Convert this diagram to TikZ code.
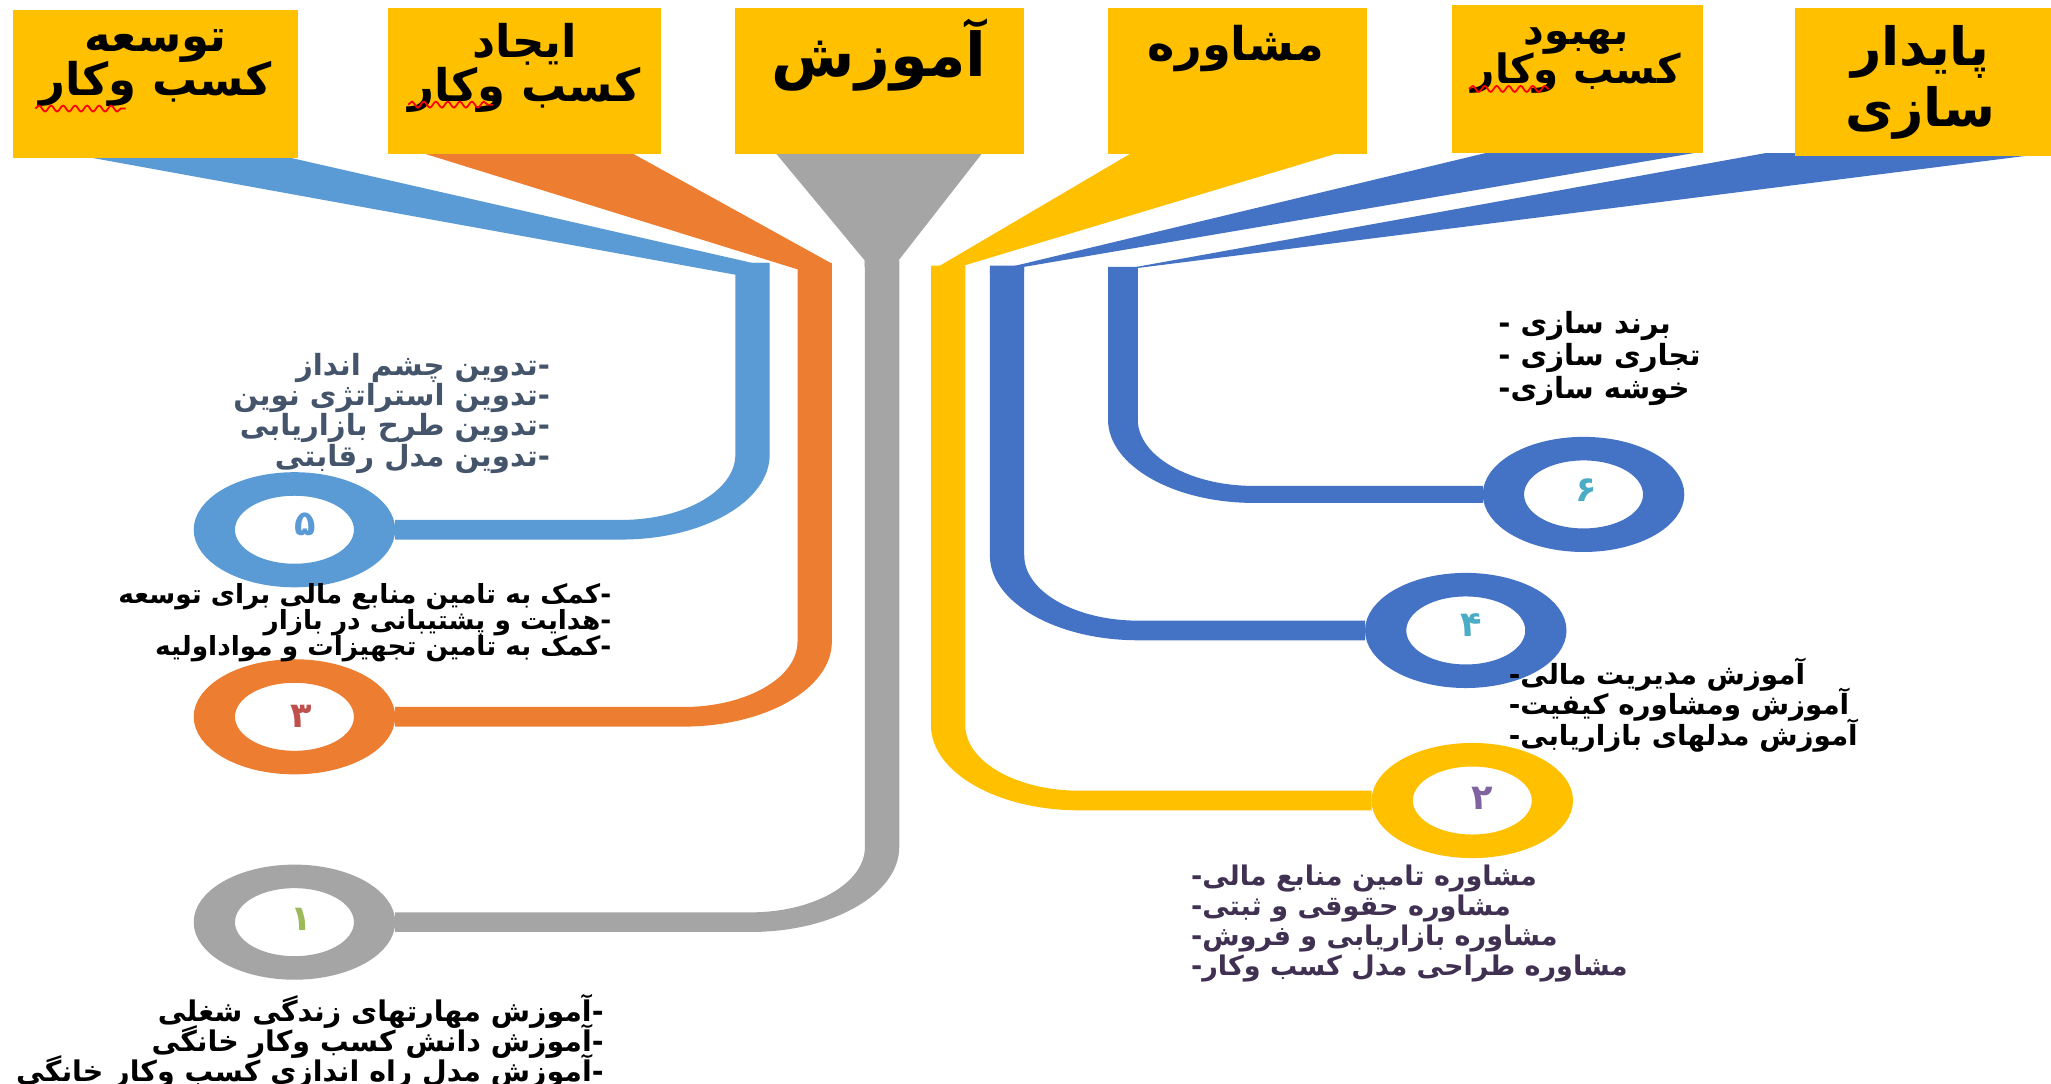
\documentclass[tikz,border=0pt]{standalone}
\usepackage{fontspec}
\usepackage{tikz}
\usetikzlibrary{decorations.pathmorphing}
\newfontfamily\farsi[Script=Arabic]{DejaVu Sans}
\TeXXeTstate=1
\newcommand{\rtlline}[1]{\beginR #1\endR}
\newcommand{\dsh}{\mbox{-}}
\newcommand{\upx}{0.01308cm}
\newcommand{\fa}[2]{\farsi\bfseries\fontsize{#1}{#2}\selectfont\lineskiplimit=-50pt}
\definecolor{gold}{HTML}{FFC000}
\definecolor{lblue}{HTML}{5B9BD5}
\definecolor{orng}{HTML}{ED7D31}
\definecolor{grey}{HTML}{A5A5A5}
\definecolor{dblue}{HTML}{4472C4}
\definecolor{slate}{HTML}{44546A}
\definecolor{plum}{HTML}{403152}
\definecolor{nred}{HTML}{C0504D}
\definecolor{ngreen}{HTML}{9BBB59}
\definecolor{npurple}{HTML}{8064A2}
\definecolor{nteal}{HTML}{4BACC6}
\tikzset{
  head/.style={fill=gold, inner sep=0pt},
  headtxt/.style={align=center, inner sep=0pt},
  bar/.style={line width=15*\upx, rounded corners=0.75cm},
  ring/.style={circle, fill=white, line width=18*\upx, minimum size=70*\upx, inner sep=0pt},
  num/.style={font=\fa{10}{10}, inner sep=0pt},
  item/.style={inner sep=0pt},
  spell/.style={draw=red, line width=0.5pt, decorate, decoration={snake, amplitude=0.3mm, segment length=1.2mm}},
}

\begin{document}
\begin{tikzpicture}[x=0.01308cm, y=-0.01308cm]
\fill[white] (0,0) rectangle (1568,828);
\useasboundingbox (0,0) rectangle (1568,828);

% funnels under the heads
\fill[lblue] (50,117) -- (206,117) -- (575,201) -- (588,201) -- (588,210) -- (562,210) -- cycle;
\fill[orng] (323,117) -- (483,117) -- (635,201) -- (635,206) -- (610,206) -- cycle;
\fill[grey] (593,117) -- (751,117) -- (687,199) -- (687,204) -- (661,204) -- (661,199) -- cycle;
\fill[gold] (865,117) -- (1023,117) -- (737,203) -- (737,207) -- (712,207) -- cycle;
\fill[dblue] (1140,116) -- (1301,116) -- (783,204) -- (783,208) -- (756,208) -- cycle;
\fill[dblue] (1350,117) -- (1566,117) -- (869,205) -- (869,208) -- (847,208) -- cycle;

% heads
\node[head, minimum width=218*\upx, minimum height=113*\upx] (b1) at (119,64.5) {};
\node[head, minimum width=208*\upx, minimum height=112*\upx] (b2) at (401,62) {};
\node[head, minimum width=221*\upx, minimum height=112*\upx] (b3) at (672.5,62) {};
\node[head, minimum width=198*\upx, minimum height=112*\upx] (b4) at (946,62) {};
\node[head, minimum width=192*\upx, minimum height=113*\upx] (b5) at (1206,60.5) {};
\node[head, minimum width=196*\upx, minimum height=113*\upx] (b6) at (1470,62.5) {};

\node[headtxt, font=\fa{12.8}{12.6}] (t1) at (119,52) {\rtlline{توسعه}\\\rtlline{کسب وکار}};
\node[headtxt, font=\fa{12.8}{12.6}] (t2) at (401,52) {\rtlline{ایجاد}\\\rtlline{کسب وکار}};
\node[headtxt, font=\fa{17.2}{17.2}] (t3) at (672,42) {\rtlline{آموزش}};
\node[headtxt, font=\fa{13.2}{13.2}] (t4) at (945,37) {\rtlline{مشاوره}};
\node[headtxt, font=\fa{11.5}{11.1}] (t5) at (1205,46) {\rtlline{بهبود}\\\rtlline{کسب وکار}};
\node[headtxt, font=\fa{15}{17.4}] (t6) at (1468,63) {\rtlline{پایدار}\\\rtlline{سازی}};

\draw[spell] (27,83) -- (96,83);
\draw[spell] (312,80) -- (377,80);
\draw[spell] (1123,68) -- (1184,68);

% rails and rings (the source was stretched sideways)
\begin{scope}[transform canvas={xscale=1.75}, x=0.0074743cm]
\foreach \n/\c/\x/\y in {5/lblue/225/405, 3/orng/225/548, 1/grey/225/705, 2/gold/1125/612, 4/dblue/1120/482, 6/dblue/1210/378}{
  \node[ring, draw=\c] (ring\n) at (\x,\y) {};
}
\coordinate (top5) at (575,201);
\coordinate (top3) at (622.5,201);
\coordinate (top1) at (674,199);
\coordinate (top2) at (724.5,203);
\coordinate (top4) at (769.5,203);
\coordinate (top6) at (858,204);
\draw[bar, lblue] (top5) |- (ring5);
\draw[bar, orng] (top3) |- (ring3);
\draw[bar, grey] (top1) |- (ring1);
\draw[bar, gold] (top2) |- (ring2);
\draw[bar, dblue] (top4) |- (ring4);
\draw[bar, dblue, line width=13*\upx] (top6) |- (ring6);
\end{scope}

\node[num, text=lblue] (n5) at (233,401) {۵};
\node[num, text=nred] (n3) at (230,548) {۳};
\node[num, text=ngreen] (n1) at (230,703) {۱};
\node[num, text=npurple] (n2) at (1133,610) {۲};
\node[num, text=nteal] (n4) at (1125,478) {۴};
\node[num, text=nteal] (n6) at (1213,375) {۶};

% item lists
\node[item, font=\fa{8.3}{8.6}, text=slate, align=right, anchor=east] (list5) at (421,316) {%
  \rtlline{\dsh تدوین چشم انداز}\\
  \rtlline{\dsh تدوین استراتژی نوین}\\
  \rtlline{\dsh تدوین طرح بازاریابی}\\
  \rtlline{\dsh تدوین مدل رقابتی}};
\node[item, font=\fa{7.5}{7.45}, align=right, anchor=east] (list3) at (468,476) {%
  \rtlline{\dsh کمک به تامین منابع مالی برای توسعه}\\
  \rtlline{\dsh هدایت و پشتیبانی در بازار}\\
  \rtlline{\dsh کمک به تامین تجهیزات و مواداولیه}};
\node[item, font=\fa{8.1}{8.6}, align=right, anchor=east] (list1) at (462,796) {%
  \rtlline{\dsh آموزش مهارتهای زندگی شغلی}\\
  \rtlline{\dsh آموزش دانش کسب وکار خانگی}\\
  \rtlline{\dsh آموزش مدل راه اندازی کسب وکار خانگی}};
\node[item, font=\fa{8.3}{9.3}, align=left, anchor=west] (list6) at (1145,274) {%
  \rtlline{برند سازی \dsh}\\
  \rtlline{تجاری سازی \dsh}\\
  \rtlline{خوشه سازی\dsh}};
\node[item, font=\fa{7.9}{8.6}, align=left, anchor=west] (list4) at (1153,539) {%
  \rtlline{آموزش مدیریت مالی\dsh}\\
  \rtlline{آموزش ومشاوره کیفیت\dsh}\\
  \rtlline{آموزش مدلهای بازاریابی\dsh}};
\node[item, font=\fa{7.7}{8.6}, text=plum, align=left, anchor=west] (list2) at (910,706) {%
  \rtlline{مشاوره تامین منابع مالی\dsh}\\
  \rtlline{مشاوره حقوقی و ثبتی\dsh}\\
  \rtlline{مشاوره بازاریابی و فروش\dsh}\\
  \rtlline{مشاوره طراحی مدل کسب وکار\dsh}};
\end{tikzpicture}
\end{document}
